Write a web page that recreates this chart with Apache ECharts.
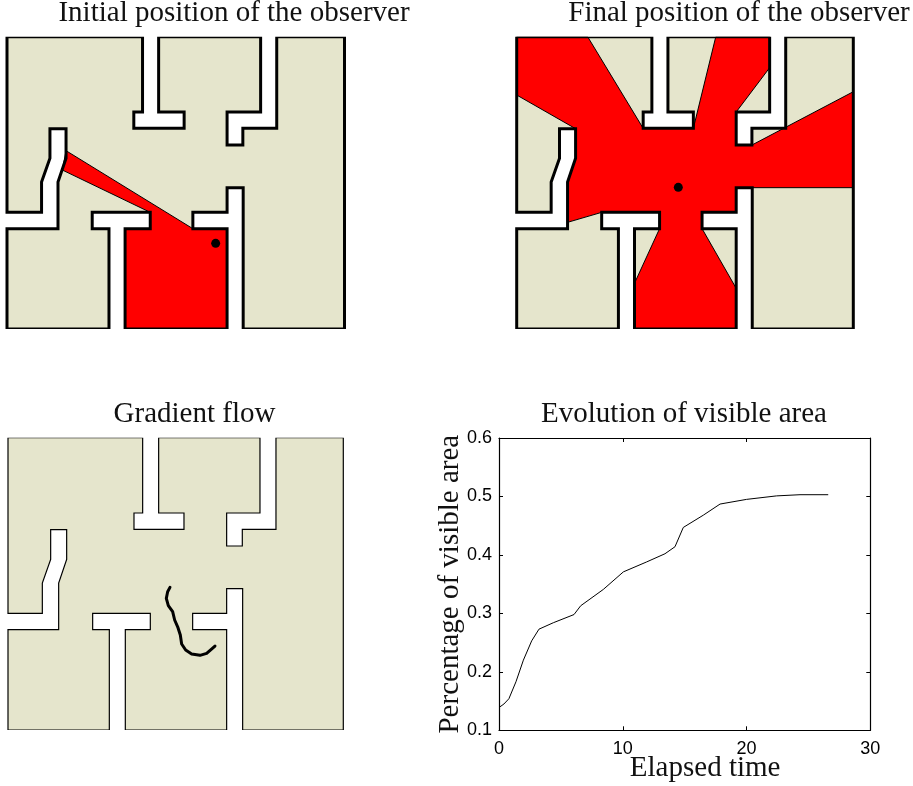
<!DOCTYPE html>
<html>
<head>
<meta charset="utf-8">
<title>Visibility</title>
<style>
  html, body { margin: 0; padding: 0; background: #fff; }
  #chart { width: 913px; height: 786px; }
</style>
<script src="https://cdn.jsdelivr.net/npm/echarts@6/dist/echarts.min.js"></script>
</head>
<body>
<div id="chart"></div>
<script>
// floor plan (plan units, y up)
const planOutline = [
  [0, 877], [404, 877], [404, 651], [378, 651], [378, 602], [528, 602], [528, 651], [452, 651],
  [452, 877], [756, 877], [756, 651], [656, 651], [656, 552], [703, 552], [703, 602], [804, 602],
  [804, 877], [1006, 877], [1006, 0], [704, 0], [704, 424], [656, 424], [656, 350], [554, 350],
  [554, 301], [656, 301], [656, 0], [352, 0], [352, 301], [427, 301], [427, 350], [254, 350],
  [254, 301], [304, 301], [304, 0], [0, 0], [0, 301], [152, 301], [152, 441], [176, 512],
  [176, 601], [128, 601], [128, 512], [103, 441], [103, 350], [0, 350]
]
const visibleInitial = [
  [352, 0], [656, 0], [656, 301], [554, 301], [176, 535], [165, 477], [427, 350], [427, 301], [352, 301]
]
const visibleFinal = [
  [0, 877], [212, 877], [378, 602], [528, 602], [595, 877], [756, 877], [756, 784], [656, 651],
  [656, 552], [703, 552], [1006, 712], [1006, 424], [656, 424], [656, 350], [554, 350], [554, 301],
  [656, 122], [656, 0], [352, 0], [352, 137], [427, 301], [427, 350], [254, 350], [152, 320],
  [152, 441], [176, 512], [176, 601], [0, 702]
]
const observerInitial = [[622, 257]]
const observerFinal = [[483, 425]]
const flowPath = [
  [486, 428], [479, 415], [475, 395], [481, 373], [494, 355], [500, 330], [510, 307],
  [517, 285], [521, 258], [533, 240], [551, 228], [576, 224], [596, 230], [621, 252]
]

// visible area curve
const elapsedTime = [0, 0.4, 0.8, 1.37, 1.97, 2.64, 3.23, 4.39, 6.06, 6.6, 8.43, 10.05, 11.93, 13.41, 14.22, 14.89, 16.51, 17.86, 20, 22.43, 24.32, 26.6]
const visibleArea = [0.139, 0.145, 0.154, 0.183, 0.22, 0.253, 0.273, 0.284, 0.298, 0.313, 0.341, 0.371, 0.388, 0.402, 0.414, 0.447, 0.468, 0.487, 0.495, 0.501, 0.503, 0.503]

const serif = '"Liberation Serif", serif'
const sans = '"Liberation Sans", Arial, sans-serif'
const titleSize = 29
const wallColor = '#000'
const floorColor = '#e5e5cc'

// one closed polygon, clipped top and bottom by the plot box like the original axes
function polygonSeries(gridIndex, pts, style, z) {
  return {
    type: 'custom',
    coordinateSystem: 'cartesian2d',
    xAxisIndex: gridIndex,
    yAxisIndex: gridIndex,
    data: pts,
    encode: { x: 0, y: 1 },
    silent: true,
    clip: false,
    z,
    renderItem(params, api) {
      if (params.dataIndex !== 0) return
      const box = params.coordSys
      return {
        type: 'polygon',
        shape: { points: pts.map(p => api.coord(p)) },
        style,
        clipPath: { type: 'rect', shape: { x: box.x - 5, y: box.y, width: box.width + 10, height: box.height } }
      }
    }
  }
}

function planSeries(gridIndex, visible, wallWidth) {
  const list = [polygonSeries(gridIndex, planOutline, { fill: floorColor, stroke: null }, 1)]
  if (visible) {
    list.push(polygonSeries(gridIndex, visible, { fill: '#f00', stroke: '#000', lineWidth: 1 }, 2))
  }
  list.push(polygonSeries(gridIndex, planOutline, { fill: null, stroke: wallColor, lineWidth: wallWidth, lineJoin: 'miter' }, 3))
  return list
}

function observer(gridIndex, point) {
  return {
    type: 'scatter',
    xAxisIndex: gridIndex,
    yAxisIndex: gridIndex,
    data: point,
    symbolSize: 9,
    itemStyle: { color: '#000', opacity: 1 },
    z: 4
  }
}

function planAxis(gridIndex, max) {
  return { type: 'value', gridIndex, min: 0, max, show: false }
}

function titleAt(text, x, y) {
  return {
    text,
    left: x,
    top: y,
    textAlign: 'center',
    padding: 0,
    textStyle: { fontFamily: serif, fontSize: titleSize, fontWeight: 'normal', color: '#111' }
  }
}

const boxLine = { show: true, onZero: false, lineStyle: { color: '#000', width: 1.2 } }
const boxTick = { show: true, inside: true, length: 4, lineStyle: { color: '#000', width: 1 } }
const tickFont = { fontFamily: sans, fontSize: 18, color: '#000' }

const option = {
  animation: false,
  backgroundColor: '#fff',
  title: [
    titleAt('Initial position of the observer', 234, -1),
    titleAt('Final position of the observer', 739, -1),
    titleAt('Gradient flow', 194.5, 400),
    titleAt('Evolution of visible area', 684, 400)
  ],
  grid: [
    { left: 7, top: 36.7, width: 337.5, height: 292.3, outerBoundsMode: 'none' },
    { left: 516.7, top: 36.7, width: 336.6, height: 292.3, outerBoundsMode: 'none' },
    { left: 8, top: 437.7, width: 335.3, height: 292.3, outerBoundsMode: 'none' },
    { left: 499, top: 438, width: 371.3, height: 292.3, outerBoundsMode: 'none' }
  ],
  xAxis: [
    planAxis(0, 1006),
    planAxis(1, 1006),
    planAxis(2, 1006),
    {
      type: 'value', gridIndex: 3, min: 0, max: 30, interval: 10,
      axisLine: boxLine, axisTick: boxTick, splitLine: { show: false },
      axisLabel: { ...tickFont, margin: 10, showMinLabel: true, showMaxLabel: true },
      name: 'Elapsed time', nameLocation: 'middle', nameGap: 24, nameMoveOverlap: false,
      nameTextStyle: { fontFamily: serif, fontSize: titleSize, color: '#111', padding: [0, 0, 0, 41] }
    },
    {
      type: 'value', gridIndex: 3, position: 'top', min: 0, max: 30, interval: 10,
      axisLine: boxLine, axisTick: boxTick, axisLabel: { show: false }, splitLine: { show: false }
    }
  ],
  yAxis: [
    planAxis(0, 877),
    planAxis(1, 877),
    planAxis(2, 877),
    {
      type: 'value', gridIndex: 3, min: 0.1, max: 0.6, interval: 0.1,
      axisLine: boxLine, axisTick: boxTick, splitLine: { show: false },
      axisLabel: { ...tickFont, margin: 7, formatter: v => v.toFixed(1), showMinLabel: true, showMaxLabel: true },
      name: 'Percentage of visible area', nameLocation: 'middle', nameGap: 34, nameRotate: 90, nameMoveOverlap: false,
      nameTextStyle: { fontFamily: serif, fontSize: titleSize, color: '#111' }
    },
    {
      type: 'value', gridIndex: 3, position: 'right', min: 0.1, max: 0.6, interval: 0.1,
      axisLine: boxLine, axisTick: boxTick, axisLabel: { show: false }, splitLine: { show: false }
    }
  ],
  series: [
    ...planSeries(0, visibleInitial, 3),
    observer(0, observerInitial),
    ...planSeries(1, visibleFinal, 3),
    observer(1, observerFinal),
    ...planSeries(2, null, 1.2),
    {
      type: 'line',
      xAxisIndex: 2,
      yAxisIndex: 2,
      data: flowPath,
      showSymbol: false,
      lineStyle: { color: '#000', width: 3, cap: 'round', join: 'round' },
      z: 4
    },
    {
      type: 'line',
      xAxisIndex: 3,
      yAxisIndex: 3,
      data: elapsedTime.map((t, i) => [t, visibleArea[i]]),
      showSymbol: false,
      lineStyle: { color: '#000', width: 1 },
      z: 4
    }
  ]
}

const chart = echarts.init(document.getElementById('chart'))
chart.setOption(option)
</script>
</body>
</html>
